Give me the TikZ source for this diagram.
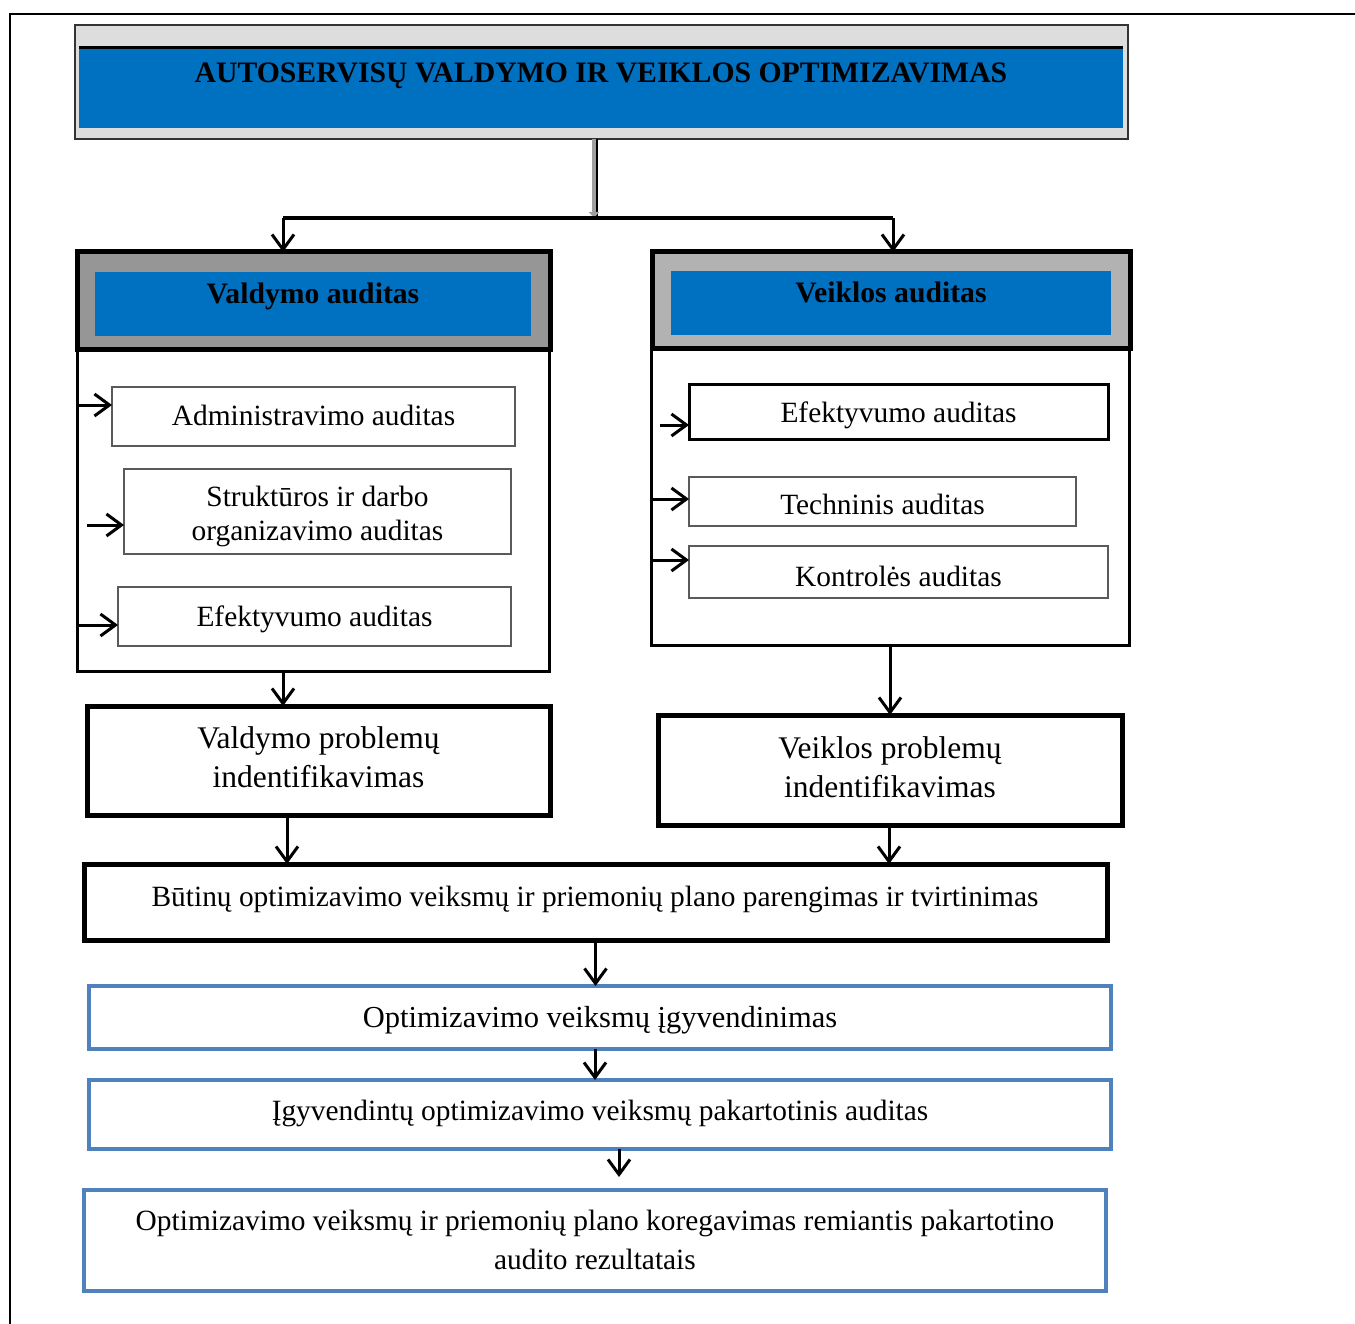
\documentclass[tikz,border=0pt]{standalone}
\usepackage{fontspec}
\setmainfont{Liberation Serif}
\usetikzlibrary{arrows.meta}
\definecolor{titlegray}{HTML}{DDDDDD}
\definecolor{hdrblue}{HTML}{0070C0}
\definecolor{hdrgrayL}{HTML}{969696}
\definecolor{hdrgrayR}{HTML}{B2B2B2}
\definecolor{edgegray}{HTML}{5A5A5A}
\definecolor{lineblue}{HTML}{4F81BD}
\definecolor{conngray}{HTML}{A0A0A0}
\begin{document}
\begin{tikzpicture}[x=1pt,y=-1pt,
  sz/.style 2 args={minimum width=#1pt, minimum height=#2pt},
  base/.style={rectangle, inner sep=0pt, outer sep=0pt, align=center},
  txt/.style={font=\fontsize{29.4}{34}\selectfont, align=center, inner sep=0pt},
  bigtxt/.style={font=\fontsize{31.5}{39}\selectfont, align=center, inner sep=0pt},
  headtxt/.style={font=\bfseries\fontsize{29.7}{34}\selectfont, inner sep=0pt},
  subbox/.style={base, draw=edgegray, line width=2.5pt, fill=white},
  darkbox/.style={base, draw=black, line width=3pt, fill=white},
  bodybox/.style={base, draw=black, line width=3pt, fill=white},
  headbox/.style={base, draw=black, line width=5pt},
  probbox/.style={base, draw=black, line width=5pt, fill=white},
  bluebox/.style={base, draw=lineblue, line width=4.5pt, fill=white},
  innerblue/.style={base, fill=hdrblue},
  arr/.style={line width=3pt, -{Straight Barb[length=15pt,width=22pt,line width=3pt]}},
  grayarr/.style={draw=conngray, line width=3.5pt, -{Triangle[length=6pt,width=10pt]}},
  link/.style={line width=4pt}
]
\useasboundingbox (0,0) rectangle (1355,1324);

% page frame
\draw[line width=2pt] (1355,14) -- (10,14) -- (10,1324);

% title
\node[base, draw=black!80, line width=2.5pt, fill=titlegray, sz={1053}{114}] (title) at (601.5,82) {};
\node[innerblue, sz={1044}{80}] (titleblue) at (601,88) {};
\draw[line width=3pt] (titleblue.north west) -- (titleblue.north east);
\node[headtxt] (titletext) at (601,76) {AUTOSERVISŲ VALDYMO IR VEIKLOS OPTIMIZAVIMAS};

% left column: management audit
\node[bodybox, sz={472}{321}] (bodyL) at (313,510.5) {};
\node[headbox, fill=hdrgrayL, sz={473}{98}] (hdrL) at (313.5,301) {};
\node[innerblue, sz={436}{64}] (hdrLin) at (313,304) {};
\node[headtxt] (hdrLtext) at (313,296) {Valdymo auditas};

\node[subbox, sz={403}{59}] (adm) at (313.5,416.5) {};
\node[txt] (admtext) at ([yshift=1pt]adm.center) {Administravimo auditas};
\node[subbox, sz={387}{85}] (str) at (317.5,511.5) {};
\node[txt] (strtext) at ([yshift=-5pt]str.center) {Struktūros ir darbo\\organizavimo auditas};
\node[subbox, sz={393}{59}] (efL) at (314.5,616.5) {};
\node[txt] (efLtext) at ([yshift=-3pt]efL.center) {Efektyvumo auditas};

% right column: activity audit
\node[bodybox, sz={478}{296}] (bodyR) at (890,497) {};
\node[headbox, fill=hdrgrayR, sz={478}{97}] (hdrR) at (891,300.5) {};
\node[innerblue, sz={440}{64}] (hdrRin) at (891,303) {};
\node[headtxt] (hdrRtext) at (891,292.5) {Veiklos auditas};

\node[darkbox, sz={419}{55}] (efR) at (898.5,411.5) {};
\node[txt] (efRtext) at ([yshift=-4pt]efR.center) {Efektyvumo auditas};
\node[subbox, sz={387}{49}] (tech) at (882.5,501.5) {};
\node[txt] (techtext) at ([yshift=-3pt]tech.center) {Techninis auditas};
\node[subbox, sz={419}{52}] (kont) at (898.5,572) {};
\node[txt] (konttext) at ([yshift=-4pt]kont.center) {Kontrolės auditas};

% problem identification
\node[probbox, sz={463}{109}] (probL) at (318.5,760.5) {};
\node[bigtxt] (probLtext) at ([yshift=3pt]probL.center) {Valdymo problemų\\indentifikavimas};
\node[probbox, sz={464}{110}] (probR) at (890,770) {};
\node[bigtxt] (probRtext) at ([yshift=3pt]probR.center) {Veiklos problemų\\indentifikavimas};

% plan and follow-up steps
\node[probbox, sz={1023}{76}] (plan) at (595.5,902) {};
\node[txt] (plantext) at (595,899) {Būtinų optimizavimo veiksmų ir priemonių plano parengimas ir tvirtinimas};
\node[bluebox, sz={1022}{63}] (impl) at (600,1017.5) {};
\node[txt, font=\fontsize{30.5}{34}\selectfont] (impltext) at ([yshift=-2.5pt]impl.center) {Optimizavimo veiksmų įgyvendinimas};
\node[bluebox, sz={1022}{69}] (reaudit) at (600,1114.5) {};
\node[txt] (reaudittext) at (600,1113) {Įgyvendintų optimizavimo veiksmų pakartotinis auditas};
\node[bluebox, sz={1022}{101}] (correct) at (595,1240.5) {};
\node[txt, font=\fontsize{29.4}{39}\selectfont] (correcttext) at ([yshift=1pt]correct.center) {Optimizavimo veiksmų ir priemonių plano koregavimas remiantis pakartotino\\audito rezultatais};

% split from the title to both audits
\coordinate (split) at (594,218);
\coordinate (brL) at (283,218);
\coordinate (brR) at (893,218);
\draw[line width=2pt] ([xshift=2.5pt]title.south -| split) -- ([xshift=2.5pt]split);
\draw[grayarr] (title.south -| split) -- (split);
\draw[link] (brL) -- (brR);
\draw[arr] (brL) -- (brL |- hdrL.north);
\draw[arr] (brR) -- (brR |- hdrR.north);

% arrows into the left sub-audits
\coordinate (a1) at ([yshift=11.5pt]adm.west);
\coordinate (a2) at ([yshift=-13.5pt]str.west);
\coordinate (a3) at ([yshift=-8.5pt]efL.west);
\draw[arr] (a1 -| bodyL.west) -- (a1);
\draw[arr] ([xshift=-37pt]a2) -- (a2);
\draw[arr] (a3 -| bodyL.west) -- (a3);

% arrows into the right sub-audits
\coordinate (b1) at ([yshift=-13.5pt]efR.west);
\coordinate (b2) at ([yshift=2.5pt]tech.west);
\coordinate (b3) at ([yshift=12pt]kont.west);
\draw[arr] ([xshift=-29pt]b1) -- (b1);
\draw[arr] (b2 -| bodyR.west) -- (b2);
\draw[arr] (b3 -| bodyR.west) -- (b3);

% downward flow
\coordinate (dL1) at ([xshift=-30pt]bodyL.south);
\draw[arr] (dL1) -- (dL1 |- probL.north);
\coordinate (dL2) at ([xshift=-31.5pt]probL.south);
\draw[arr] (dL2) -- (dL2 |- plan.north);
\draw[arr] (bodyR.south) -- (probR.north);
\coordinate (dR2) at ([xshift=-1pt]probR.south);
\draw[arr] (dR2) -- (dR2 |- plan.north);
\draw[arr] (plan.south) -- (plan.south |- impl.north);
\coordinate (d5) at ([xshift=-5pt]impl.south);
\draw[arr] (d5) -- (d5 |- reaudit.north);
\coordinate (d6) at ([xshift=19pt]reaudit.south);
\draw[arr, shorten >=13pt] (d6) -- (d6 |- correct.north);
\end{tikzpicture}
\end{document}
